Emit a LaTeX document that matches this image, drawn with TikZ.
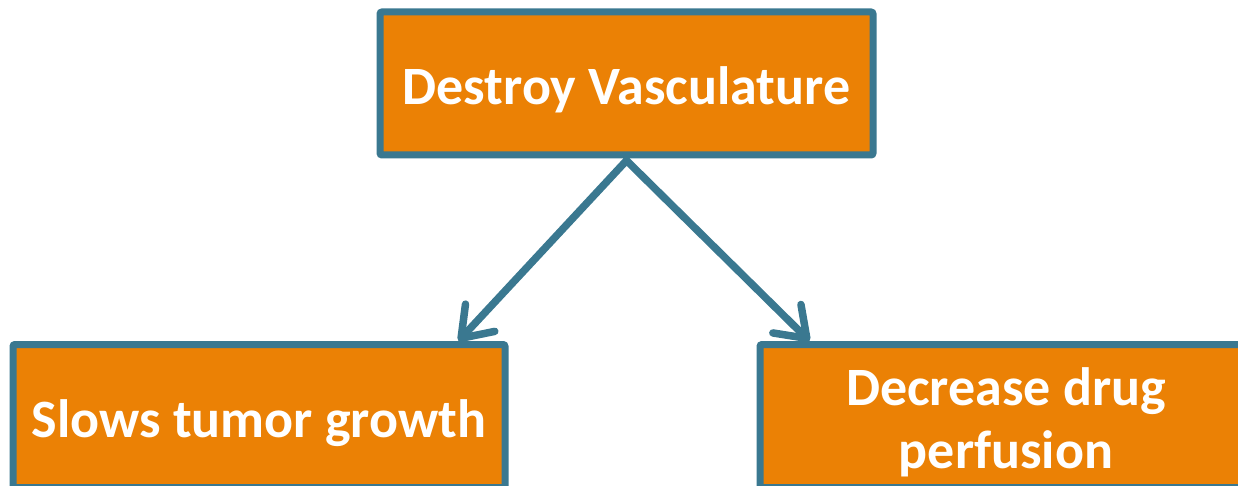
\documentclass[tikz,border=0pt]{standalone}
\usepackage{fontspec}
\setmainfont{Carlito}
\usetikzlibrary{arrows.meta,calc}
\definecolor{boxorange}{HTML}{EB8105}
\definecolor{boxteal}{HTML}{3A7890}
\tikzset{
  boxnode/.style={draw=boxteal, fill=boxorange, line width=7pt, rounded corners=2pt,
    minimum width=#1, minimum height=143pt, inner sep=0pt},
  lbl/.style={text=white, font=\bfseries\fontsize{54}{62}\selectfont, inner sep=0pt, anchor=base},
  arr/.style={draw=boxteal, line width=7.5pt, line cap=round,
    -{Straight Barb[length=28pt,width=40pt,line cap=round,line join=round]}}
}
\begin{document}
\begin{tikzpicture}[x=1pt,y=-1pt]
\useasboundingbox (0,0) rectangle (1238,486);
\clip (0,0) rectangle (1238,486);
\node[boxnode=493pt] (top) at (626.5,83.5) {};
\node[boxnode=492pt] (left) at (259,416) {};
\node[boxnode=492pt] (right) at (1006,416) {};
\node[lbl] (toptext) at (626.5,105) {Destroy Vasculature};
\node[lbl] (lefttext) at (259,437) {Slows tumor growth};
\node[lbl] (righttext1) at (1006,405) {Decrease drug};
\node[lbl] (righttext2) at (1006,468) {perfusion};
\coordinate (lefttip) at ($(left.north east)+(-50,0)$);
\coordinate (righttip) at ($(right.north west)+(53,0)$);
\draw[arr] ([yshift=-2pt]top.south) -- (lefttip);
\draw[arr] ([yshift=-2pt]top.south) -- (righttip);
\end{tikzpicture}
\end{document}
